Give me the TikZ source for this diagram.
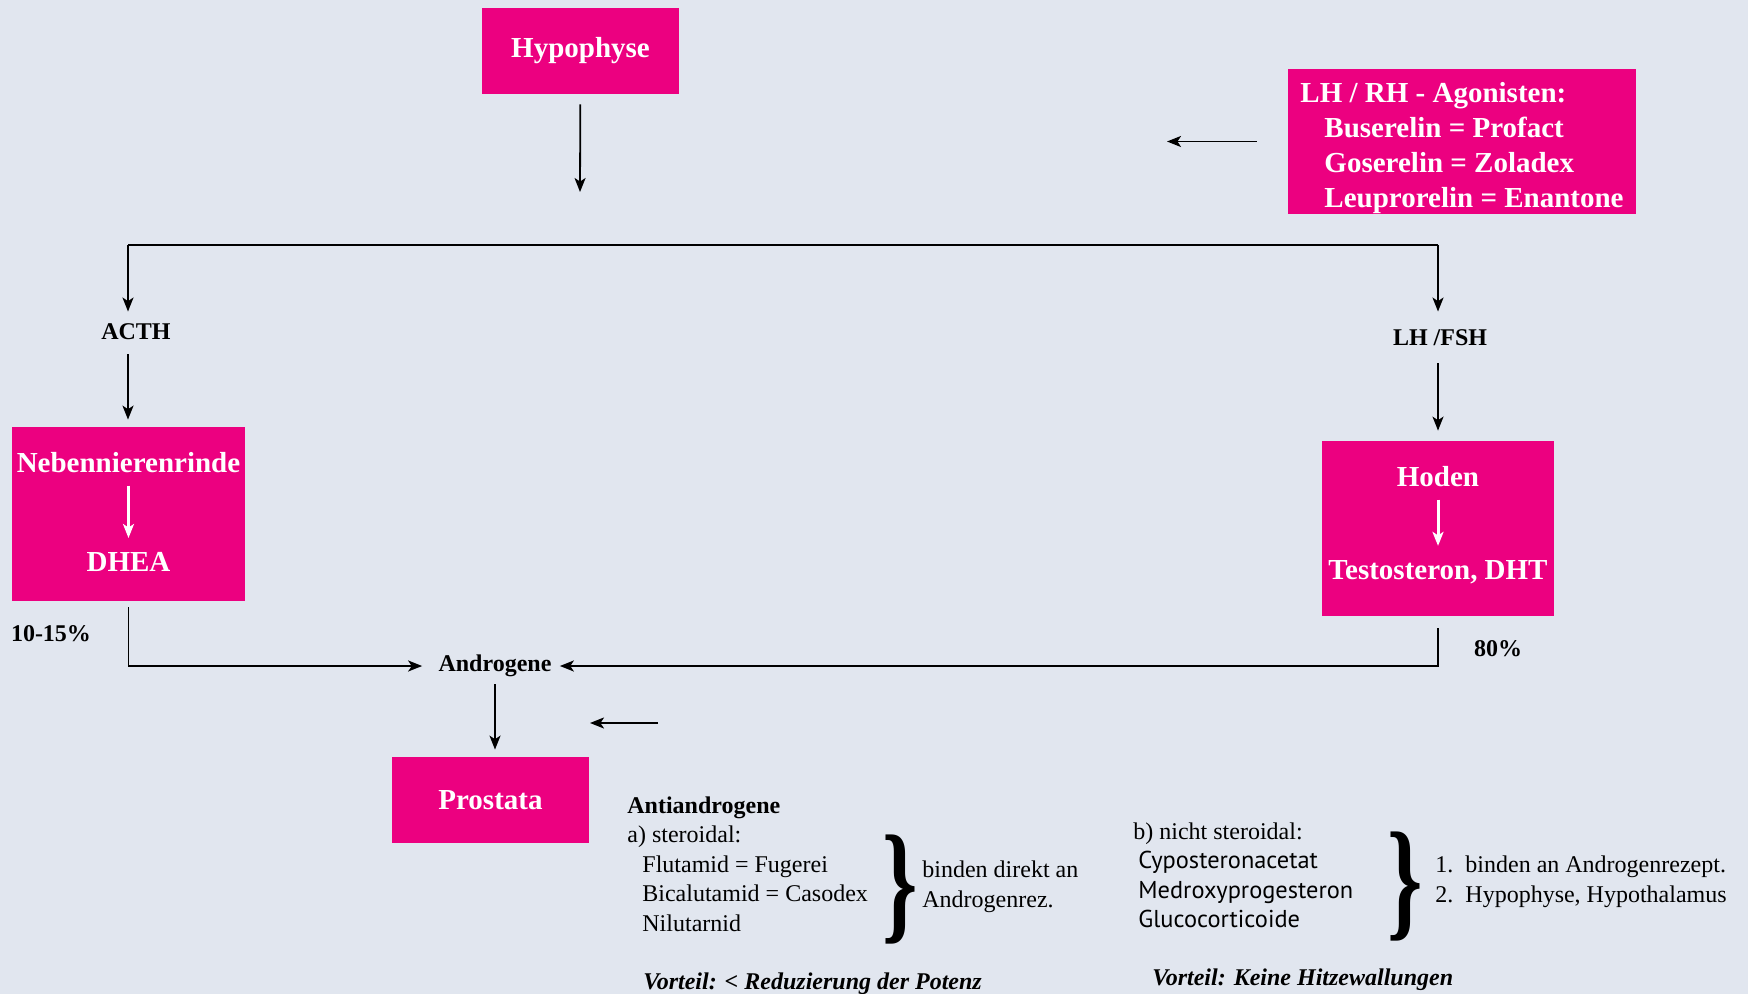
\documentclass[tikz,border=0pt]{standalone}
\usepackage{fontspec}
\setmainfont{Liberation Serif}
\newfontfamily\drugfont{PT Sans}
\usetikzlibrary{arrows.meta,positioning}
\definecolor{bgblue}{RGB}{225,230,239}
\definecolor{organpink}{RGB}{236,0,128}

\begin{document}
\begin{tikzpicture}[x=0.5pt, y=-0.5pt,
  >={Stealth[length=7pt,width=5.5pt,inset=1.8pt]},
  organ/.style={fill=organpink, text=white, font=\fontsize{14.5pt}{17.6pt}\selectfont\bfseries, inner sep=0pt},
  inorgan/.style={text=white, font=\fontsize{14.5pt}{17.6pt}\selectfont\bfseries, inner sep=0pt},
  hormone/.style={font=\fontsize{12pt}{14pt}\selectfont\bfseries, inner sep=0pt},
  flow/.style={->, line width=0.9pt},
  whiteflow/.style={->, white, line width=1.5pt},
  note/.style={font=\fontsize{12pt}{14.8pt}\selectfont, align=left, inner sep=0pt},
  bigbrace/.style={inner sep=0pt, font=\fontsize{66pt}{66pt}\selectfont\bfseries}]

\fill[bgblue] (0,0) rectangle (1748,994);
\useasboundingbox (0,0) rectangle (1748,994);

% organs
\node[organ, minimum width=98.5pt, minimum height=43pt] (hyp) at (580.5,51) {\raisebox{-1pt}{Hypophyse}};
\node[organ, minimum width=174pt, minimum height=72.5pt] (agon) at (1462,141.5) {};
\node[inorgan, align=left] (agontext) at (1462,148) {LH / RH - Agonisten:\\\hspace*{12pt}Buserelin = Profact\\\hspace*{12pt}Goserelin = Zoladex\\\hspace*{12pt}Leuprorelin = Enantone};
\node[organ, minimum width=116.5pt, minimum height=87pt] (nnrbox) at (128.5,514) {};
\node[inorgan] (nnr) at (128.5,463) {Nebennierenrinde};
\node[inorgan] (dhea) at (128.5,562) {DHEA};
\node[organ, minimum width=116pt, minimum height=87.5pt] (hodenbox) at (1438,528.5) {};
\node[inorgan] (hoden) at (1438,477) {Hoden};
\node[inorgan] (testo) at (1438,572) {Testosteron, DHT};
\node[organ, minimum width=98.5pt, minimum height=43pt] (prost) at (490.5,800) {Prostata};

% hormones
\node[hormone] (acth) at (136,332) {ACTH};
\node[hormone] (lhfsh) at (1440,338) {LH /FSH};
\node[hormone] (andro) at (495,666) {Androgene};
\node[hormone] (pnnr) at (51,634) {10-15\%};
\node[hormone] (phoden) at (1498,649) {80\%};

\coordinate (hypend) at (580,192);
\coordinate (barl) at (128,245);
\coordinate (barr) at (1438,245);
\coordinate (agonend) at (1167,143);
\coordinate (antistart) at (658,723);
\coordinate (antiend) at (590,723);

\draw[flow, shorten <=5pt] (hyp) -- (hypend);
\draw[flow, shorten <=15.5pt] (agon.west) -- (agon.west -| agonend);
\draw[line width=0.9pt] (barl) -- (barr);
\draw[flow, shorten >=6pt] (barl) -- (barl |- acth.north);
\draw[flow, shorten <=7pt, shorten >=3.5pt] (barl |- acth.south) -- (barl |- nnrbox.north);
\draw[flow, shorten >=9pt] (barr) -- (barr |- lhfsh.north);
\draw[flow, shorten <=8.5pt, shorten >=5pt] (barr |- lhfsh.south) -- (barr |- hodenbox.north);
\draw[whiteflow, shorten <=6pt, shorten >=7pt] (nnr) -- (dhea);
\draw[whiteflow, shorten <=6pt, shorten >=7pt] (hoden) -- (testo);
\draw[flow, shorten <=3pt, shorten >=8pt] (nnrbox.south) |- (andro.west);
\draw[flow, shorten <=6pt, shorten >=4pt] (hodenbox.south) |- (andro.east);
\draw[flow, shorten <=3.5pt, shorten >=3.5pt] (andro) -- (andro |- prost.north);
\draw[flow] (antistart) -- (antiend);

% antiandrogene
\node[note, anchor=north west] (steroid) at (627,796) {\textbf{Antiandrogene}\\a) steroidal:\\\hspace*{7.5pt}Flutamid = Fugerei\\\hspace*{7.5pt}Bicalutamid = Casodex\\\hspace*{7.5pt}Nilutarnid};
\node[bigbrace] (brace1) at (900,890) {\scalebox{0.68}[1]{\}}};
\node[note, anchor=west] (bind1) at (922,887) {binden direkt an\\Androgenrez.};
\node[note, anchor=north west] (nonster) at (1133,822) {b) nicht steroidal:\\{\drugfont\fontsize{12.2pt}{14.8pt}\selectfont\hspace*{2.5pt}Cyposteronacetat}\\{\drugfont\fontsize{12.2pt}{14.8pt}\selectfont\hspace*{2.5pt}Medroxyprogesteron}\\{\drugfont\fontsize{12.2pt}{14.8pt}\selectfont\hspace*{2.5pt}Glucocorticoide}};
\node[bigbrace] (brace2) at (1405,887) {\scalebox{0.68}[1]{\}}};
\node[note, anchor=west, font=\fontsize{12pt}{15pt}\selectfont] (bind2) at (1435,882) {1.\enspace binden an Androgenrezept.\\2.\enspace Hypophyse, Hypothalamus};
\node[note, anchor=west, font=\fontsize{12pt}{15pt}\selectfont\bfseries\itshape] (vort1) at (643,984) {Vorteil: < Reduzierung der Potenz};
\node[note, anchor=west, font=\fontsize{12pt}{15pt}\selectfont\bfseries\itshape] (vort2) at (1152,980) {Vorteil: Keine Hitzewallungen};
\end{tikzpicture}
\end{document}
